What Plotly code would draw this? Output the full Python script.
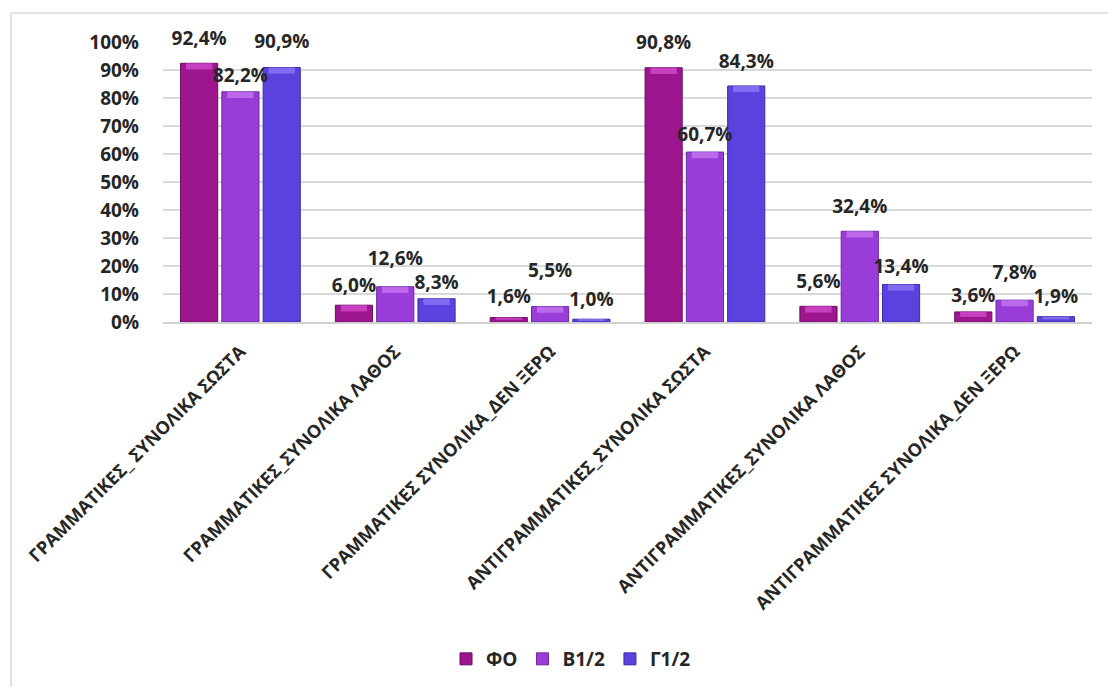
import plotly.graph_objects as go

categories = [
    "ΓΡΑΜΜΑΤΙΚΕΣ_ ΣΥΝΟΛΙΚΑ ΣΩΣΤΑ",
    "ΓΡΑΜΜΑΤΙΚΕΣ_ΣΥΝΟΛΙΚΑ ΛΑΘΟΣ",
    "ΓΡΑΜΜΑΤΙΚΕΣ ΣΥΝΟΛΙΚΑ_ΔΕΝ ΞΕΡΩ",
    "ΑΝΤΙΓΡΑΜΜΑΤΙΚΕΣ_ΣΥΝΟΛΙΚΑ ΣΩΣΤΑ",
    "ΑΝΤΙΓΡΑΜΜΑΤΙΚΕΣ_ΣΥΝΟΛΙΚΑ ΛΑΘΟΣ",
    "ΑΝΤΙΓΡΑΜΜΑΤΙΚΕΣ ΣΥΝΟΛΙΚΑ_ΔΕΝ ΞΕΡΩ",
]
series_names = ["ΦΟ", "B1/2", "Γ1/2"]
fo_values = [92.4, 6.0, 1.6, 90.8, 5.6, 3.6]
b12_values = [82.2, 12.6, 5.5, 60.7, 32.4, 7.8]
g12_values = [90.9, 8.3, 1.0, 84.3, 13.4, 1.9]
y_ticks = [0, 10, 20, 30, 40, 50, 60, 70, 80, 90, 100]
y_tick_labels = [f"{v}%" for v in y_ticks]

# styling: colours and the gap between each bar top and its value label
colors = ["#9E168E", "#9A3DD8", "#5B42DF"]
edge_colors = ["#6C0C66", "#6A28A6", "#3A2BAA"]
cap_colors = ["#D64FD0", "#C77AF2", "#8C7BF5"]
label_lift = [
    [3.4, 1.5, 2.0, 3.6, 3.4, 0.2],
    [0.2, 4.5, 7.5, 0.6, 3.3, 4.5],
    [3.8, 0.2, 1.6, 3.3, 0.9, 1.5],
]

FONT = "Open Sans"
TXT = "#262626"

fig = go.Figure()
all_values = [fo_values, b12_values, g12_values]
for i, (name, vals) in enumerate(zip(series_names, all_values)):
    fig.add_trace(go.Bar(
        name=name, x=categories, y=vals, offsetgroup=str(i),
        marker=dict(color=colors[i], line=dict(color=edge_colors[i], width=1)),
        hoverinfo="skip",
    ))
for i, vals in enumerate(all_values):
    caps = [min(2.2, v * 0.5) for v in vals]
    fig.add_trace(go.Bar(
        x=categories, y=caps, base=[v - c for v, c in zip(vals, caps)],
        offsetgroup=str(i), showlegend=False, hoverinfo="skip",
        marker=dict(color=cap_colors[i], opacity=0.75, line=dict(width=0)),
        width=0.17,
    ))
for i, vals in enumerate(all_values):
    fig.add_trace(go.Bar(
        x=categories, y=label_lift[i], base=vals,
        offsetgroup=str(i), showlegend=False, hoverinfo="skip",
        marker=dict(color="rgba(0,0,0,0)", line=dict(width=0)),
        text=[(f"{v:.1f}".replace(".", ",") + "%") for v in vals],
        textposition="outside", cliponaxis=False, constraintext="none",
        textfont=dict(family=FONT, size=19, color=TXT, weight="bold"),
    ))

L, R, T, B = 163, 16, 42, 364
W, H = 1108, 687
pw, ph = W - L - R, H - T - B

fig.update_layout(
    width=W, height=H,
    margin=dict(l=L, r=R, t=T, b=B),
    paper_bgcolor="white", plot_bgcolor="white",
    barmode="group", bargap=0.2, bargroupgap=0.1,
    font=dict(family=FONT, color=TXT),
    showlegend=True,
    legend=dict(
        orientation="h", x=(571 - L) / pw, xanchor="center",
        y=(H - B - 659) / ph, yanchor="middle",
        font=dict(family=FONT, size=19, color=TXT, weight="bold"),
        traceorder="normal",
    ),
    shapes=[dict(
        type="rect", xref="paper", yref="paper",
        x0=(11 - L) / pw, x1=1.1, y0=-1.6, y1=(H - B - 13) / ph,
        line=dict(color="#D9D9D9", width=1.5), fillcolor="rgba(0,0,0,0)",
        layer="below",
    )],
)
fig.update_yaxes(
    range=[0, 100], tickmode="array", tickvals=y_ticks, ticktext=y_tick_labels,
    showgrid=True, gridcolor="#D9D9D9", gridwidth=1.5,
    zeroline=False, showline=False,
    tickfont=dict(family=FONT, size=19, color=TXT, weight="bold"),
    ticklabelstandoff=23,
)
fig.update_xaxes(
    tickangle=-45, showline=True, linecolor="#D0D0D0", linewidth=2,
    tickfont=dict(family=FONT, size=18, color=TXT, weight="bold"),
    ticklabelstandoff=10,
)

fig.write_html("out.html")
